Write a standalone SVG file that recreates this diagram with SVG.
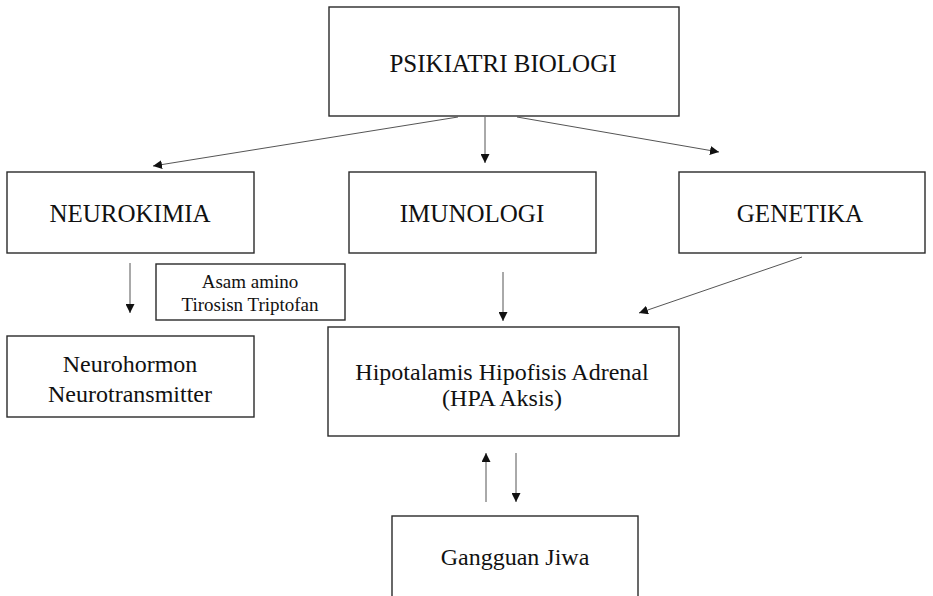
<svg xmlns="http://www.w3.org/2000/svg" width="933" height="596" viewBox="0 0 933 596">
<defs>
<marker id="ah" viewBox="0 0 10 10" refX="10" refY="5" markerWidth="9" markerHeight="9" markerUnits="userSpaceOnUse" orient="auto">
<path d="M0,0 L10,5 L0,10 Z" fill="#111"/>
</marker>
<style>
.box{fill:#fff;stroke:#2a2a2a;stroke-width:1.4}
.t{font-family:"Liberation Serif","Times New Roman",serif;fill:#111;text-anchor:middle}
.big{font-size:25px}
.med{font-size:24px}
.sm{font-size:19px}
.c{stroke:#555;stroke-width:1;fill:none;marker-end:url(#ah)}
</style>
</defs>
<rect width="933" height="596" fill="#fff"/>
<g id="psikiatri"><rect class="box" x="329" y="7" width="350" height="109"/><text class="t big" x="503" y="72">PSIKIATRI BIOLOGI</text></g>
<g id="neurokimia"><rect class="box" x="7" y="172" width="247" height="81"/><text class="t big" x="130" y="222">NEUROKIMIA</text></g>
<g id="imunologi"><rect class="box" x="349" y="172" width="247" height="81"/><text class="t big" x="472" y="222">IMUNOLOGI</text></g>
<g id="genetika"><rect class="box" x="679" y="172" width="246" height="81"/><text class="t big" x="800" y="222">GENETIKA</text></g>
<g id="asam"><rect class="box" x="156" y="264" width="189" height="56"/><text class="t sm" x="250" y="288">Asam amino</text><text class="t sm" x="250" y="311">Tirosisn Triptofan</text></g>
<g id="neurohormon"><rect class="box" x="7" y="336" width="247" height="81"/><text class="t med" x="130" y="372">Neurohormon</text><text class="t med" x="130" y="402">Neurotransmitter</text></g>
<g id="hpa"><rect class="box" x="328" y="327" width="351" height="109"/><text class="t med" x="502" y="380">Hipotalamis Hipofisis Adrenal</text><text class="t med" x="502" y="406">(HPA Aksis)</text></g>
<g id="gangguan"><rect class="box" x="392" y="516" width="246" height="90"/><text class="t med" x="515" y="565">Gangguan Jiwa</text></g>
<g id="connectors">
<line class="c" x1="458" y1="117" x2="153" y2="166"/>
<line class="c" x1="485" y1="117" x2="485" y2="163"/>
<line class="c" x1="517" y1="117" x2="719" y2="152"/>
<line class="c" x1="130" y1="263" x2="130" y2="313"/>
<line class="c" x1="503" y1="272" x2="503" y2="321"/>
<line class="c" x1="802" y1="257" x2="639" y2="313"/>
<line class="c" x1="486" y1="502" x2="486" y2="453"/>
<line class="c" x1="516" y1="453" x2="516" y2="502"/>
</g>
</svg>
